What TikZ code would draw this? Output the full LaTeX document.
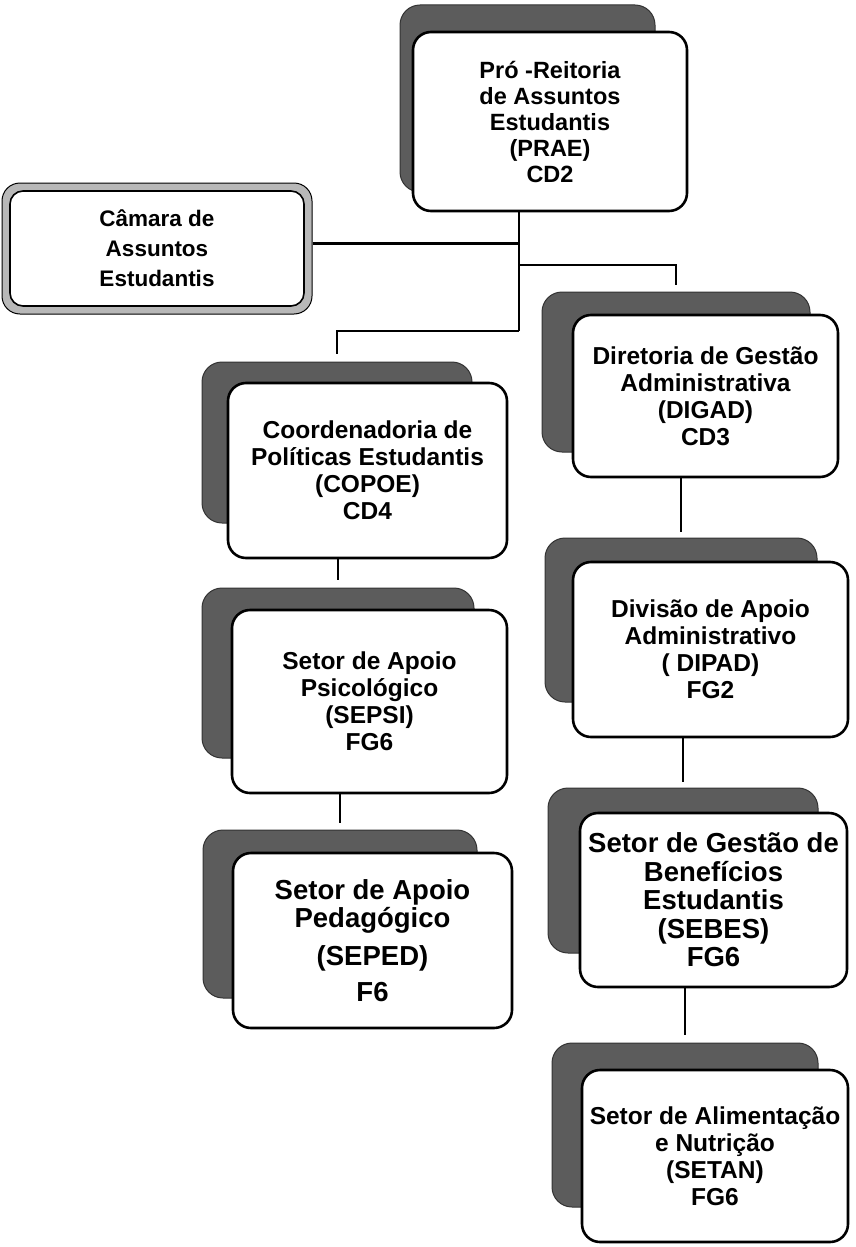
\documentclass[tikz,border=0pt]{standalone}
\usepackage{fontspec}
\setmainfont{Liberation Sans}
\usetikzlibrary{calc}
\tikzset{
  front/.style={draw=black, line width=2.6pt, fill=white, rounded corners=18pt, inner sep=0pt, align=center,
    font=\bfseries\fontsize{24.5}{27}\selectfont},
  bigtext/.style={font=\bfseries\fontsize{27.5}{28.5}\selectfont},
  shadowbox/.style={draw=black!80, line width=1pt, fill=black!64, rounded corners=20pt, inner sep=0pt},
  link/.style={line width=2.8pt, line cap=butt},
}
\begin{document}
\begin{tikzpicture}[x=1pt, y=-1pt]
\useasboundingbox (0,0) rectangle (856,1247);

% ---------- shadows ----------
\node[shadowbox, minimum width=255pt, minimum height=187pt] (prae-s)  at (527.5,98.5) {};
\node[shadowbox, minimum width=270pt, minimum height=161pt] (copoe-s) at (337,442.5) {};
\node[shadowbox, minimum width=272pt, minimum height=170pt] (sepsi-s) at (338,673) {};
\node[shadowbox, minimum width=274pt, minimum height=168pt] (seped-s) at (340,914) {};
\node[shadowbox, minimum width=268pt, minimum height=160pt] (digad-s) at (676,372) {};
\node[shadowbox, minimum width=272pt, minimum height=164pt] (dipad-s) at (681,620) {};
\node[shadowbox, minimum width=270pt, minimum height=165pt] (sebes-s) at (683,870.5) {};
\node[shadowbox, minimum width=266pt, minimum height=164pt] (setan-s) at (685,1125) {};

% ---------- front boxes ----------
\node[front, minimum width=274pt, minimum height=179pt, font=\bfseries\fontsize{23.5}{26}\selectfont] (prae) at (550,121.5)
  {Pró -Reitoria\\de Assuntos\\Estudantis\\(PRAE)\\CD2};
\node[front, minimum width=279pt, minimum height=175pt] (copoe) at (367.5,470.5)
  {Coordenadoria de\\Políticas Estudantis\\(COPOE)\\CD4};
\node[front, minimum width=275pt, minimum height=183pt] (sepsi) at (369.5,701.5)
  {Setor de Apoio\\Psicológico\\(SEPSI)\\FG6};
\node[front, bigtext, minimum width=279pt, minimum height=175pt] (seped) at (372.5,940.5)
  {Setor de Apoio\\Pedagógico\\[9pt](SEPED)\\[8pt]F6};
\node[front, minimum width=265pt, minimum height=162pt] (digad) at (705.5,396)
  {Diretoria de Gestão\\Administrativa\\(DIGAD)\\CD3};
\node[front, minimum width=275pt, minimum height=175pt] (dipad) at (710.5,649.5)
  {Divisão de Apoio\\Administrativo\\( DIPAD)\\FG2};
\node[front, bigtext, minimum width=267pt, minimum height=174pt] (sebes) at (713.5,900)
  {Setor de Gestão de\\Benefícios\\Estudantis\\(SEBES)\\FG6};
\node[front, minimum width=266pt, minimum height=172pt] (setan) at (715,1156)
  {Setor de Alimentação\\e Nutrição\\(SETAN)\\FG6};

% ---------- Câmara (double border) ----------
\node[draw=black, line width=1pt, fill=black!28, rounded corners=18pt, minimum width=310pt, minimum height=131pt, inner sep=0pt] (camara) at (157,248.5) {};
\node[draw=black, line width=1.6pt, fill=white, rounded corners=13pt, minimum width=294pt, minimum height=115pt, inner sep=0pt,
  align=center, font=\bfseries\fontsize{22.5}{30}\selectfont] (camara-in) at (camara.center)
  {Câmara de\\Assuntos\\Estudantis};

% ---------- connectors ----------
\coordinate (trunk) at (519,331);
\coordinate (jr) at (519,265);
\draw[link] (prae.south -| trunk) -- (trunk);
\draw[link, shorten >=8pt] (trunk) -| (copoe-s.north);
\draw[link] ([yshift=5pt]camara.east) -- ([yshift=5pt]camara.east -| trunk);
\draw[link, shorten >=7pt] (jr) -| (digad-s.north);
\draw[link, shorten >=8pt] (copoe.south -| sepsi-s.north) -- (sepsi-s.north);
\draw[link, shorten >=7pt] (sepsi.south -| seped-s.north) -- (seped-s.north);
\draw[link, shorten >=6pt] (digad.south -| dipad-s.north) -- (dipad-s.north);
\draw[link, shorten >=6pt] (dipad.south -| sebes-s.north) -- (sebes-s.north);
\draw[link, shorten >=8pt] (sebes.south -| setan-s.north) -- (setan-s.north);
\end{tikzpicture}
\end{document}
